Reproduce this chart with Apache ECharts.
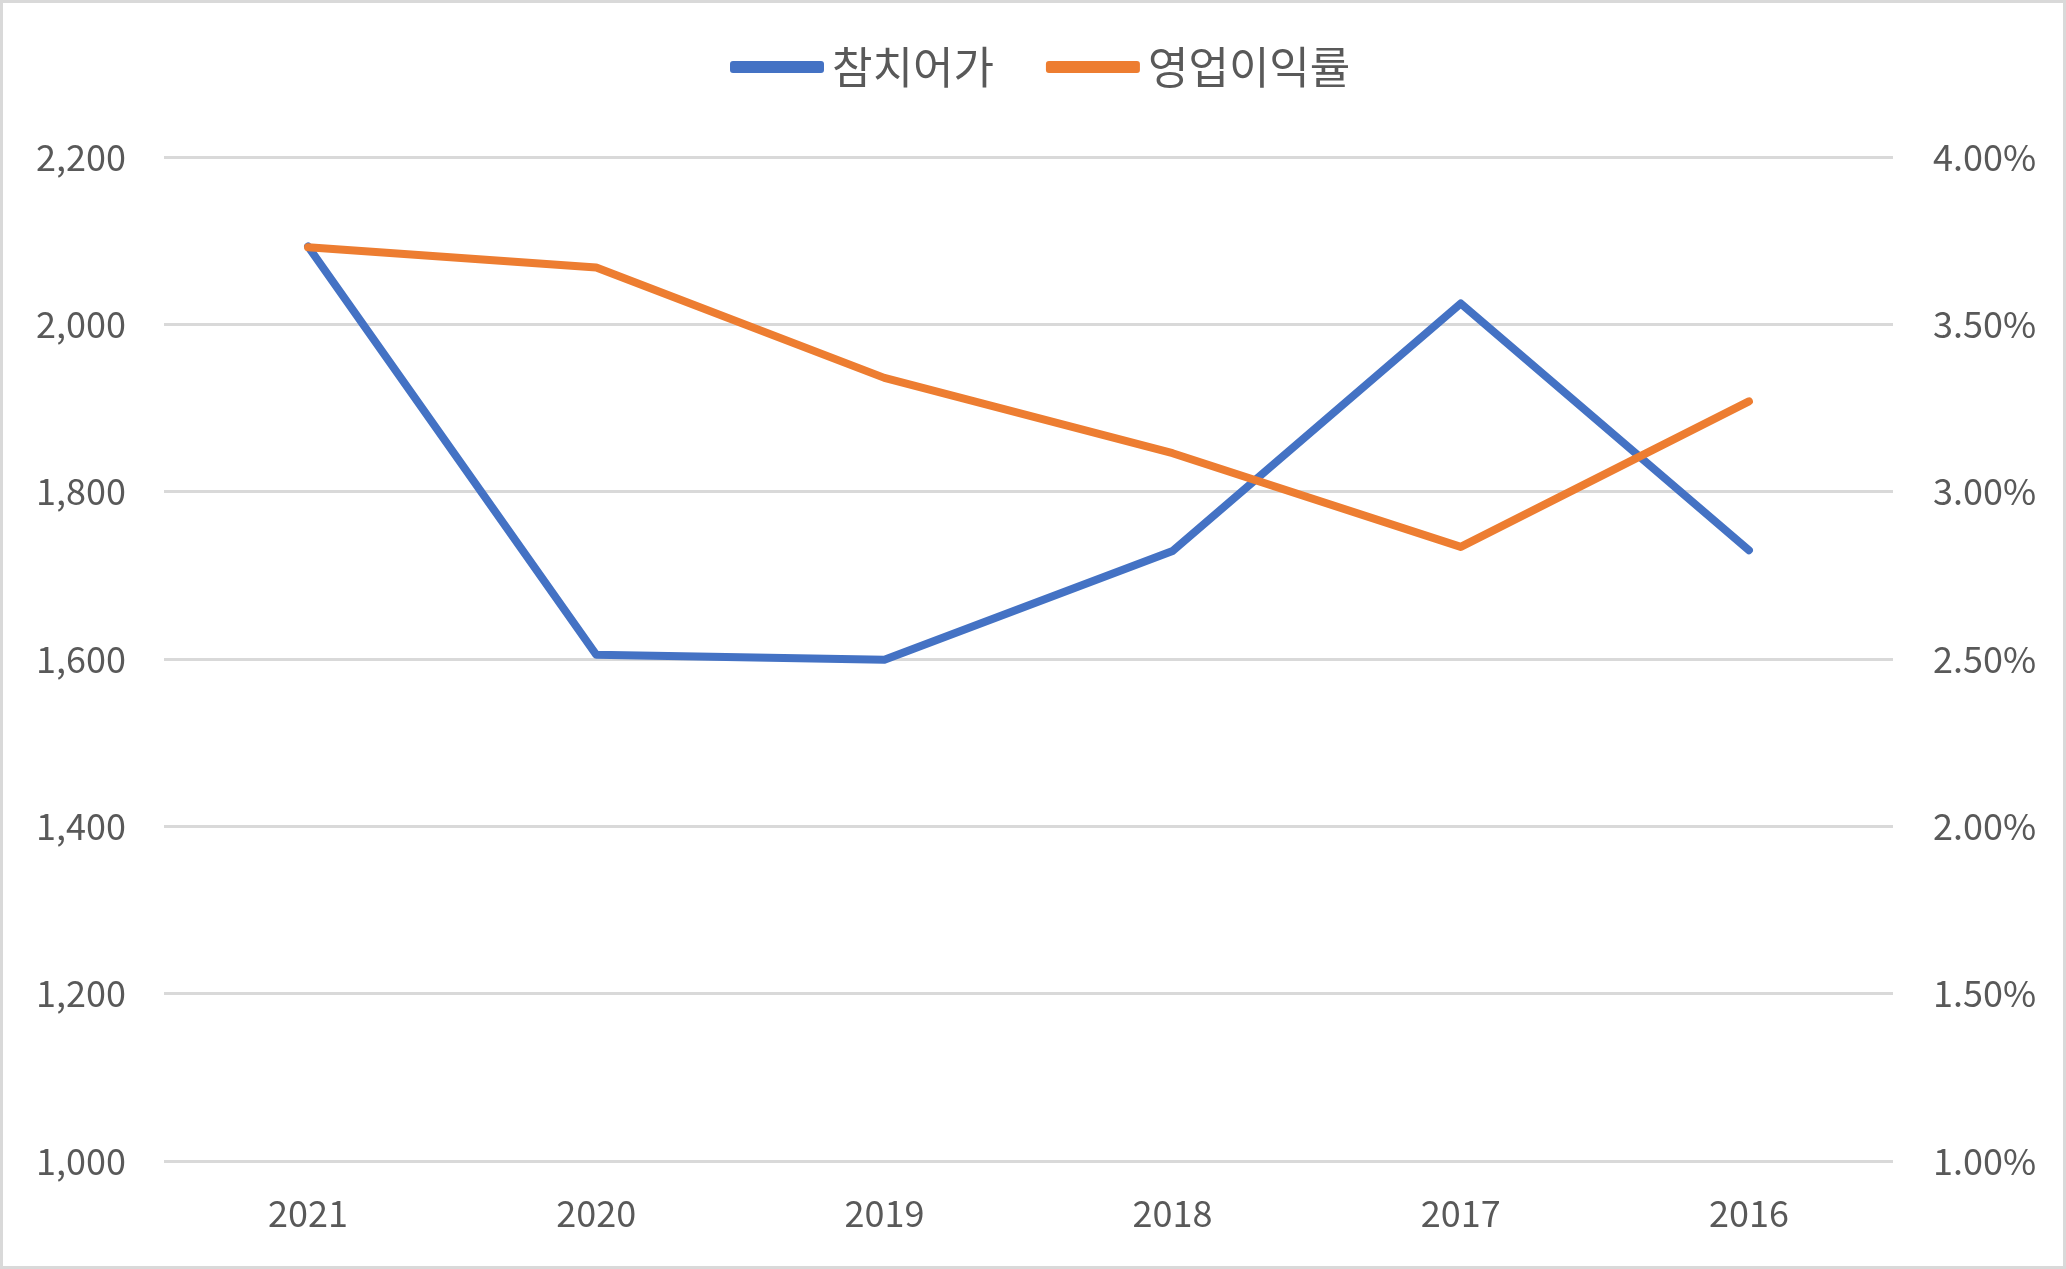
<!DOCTYPE html>
<html><head><meta charset="utf-8">
<script src="https://cdn.jsdelivr.net/npm/echarts@6/dist/echarts.min.js"></script>
<style>
html,body{margin:0;padding:0;background:#fff;}
#c{width:2066px;height:1269px;box-sizing:border-box;border:3px solid #d9d9d9;}
</style></head>
<body><div id="c"></div>
<script>
const categories = ['2021','2020','2019','2018','2017','2016'];
const tunaPrice = [2093, 1605, 1599, 1729, 2025, 1730];
const opMargin = [3.73, 3.67, 3.34, 3.115, 2.835, 3.27];
const seriesNames = ['참치어가','영업이익률'];

const font = '"Noto Sans CJK KR", "Noto Sans", sans-serif';
const chart = echarts.init(document.getElementById('c'), null, {renderer:'canvas'});
chart.setOption({
  animation:false,
  color:['#4472C4','#ED7D31'],
  legend:{
    top:37, left:722, padding:5,
    itemWidth:94, itemHeight:12, itemGap:52,
    icon:'roundRect',
    textStyle:{fontFamily:font, fontSize:44, color:'#595959', padding:[0,0,0,3]},
    data:seriesNames
  },
  grid:{left:161, right:170, top:154, bottom:105, containLabel:false},
  xAxis:{
    type:'category', data:categories, boundaryGap:true,
    axisLine:{show:false}, axisTick:{show:false},
    axisLabel:{fontFamily:font, fontSize:36, color:'#595959', margin:34}
  },
  yAxis:[{
    type:'value', min:1000, max:2200, interval:200,
    axisLine:{show:false}, axisTick:{show:false},
    splitLine:{lineStyle:{color:'#d9d9d9', width:3}},
    axisLabel:{fontFamily:font, fontSize:36, color:'#595959', margin:38,
      formatter:v=>v.toLocaleString('en-US')}
  },{
    type:'value', min:1.0, max:4.0, interval:0.5,
    axisLine:{show:false}, axisTick:{show:false},
    splitLine:{show:false},
    axisLabel:{fontFamily:font, fontSize:36, color:'#595959', margin:40,
      formatter:v=>v.toFixed(2)+'%'}
  }],
  series:[{
    name:seriesNames[0], type:'line', data:tunaPrice, yAxisIndex:0,
    symbol:'none', lineStyle:{width:8, cap:'round', join:'round'}
  },{
    name:seriesNames[1], type:'line', data:opMargin, yAxisIndex:1,
    symbol:'none', lineStyle:{width:8, cap:'round', join:'round'}
  }]
});
</script></body></html>
